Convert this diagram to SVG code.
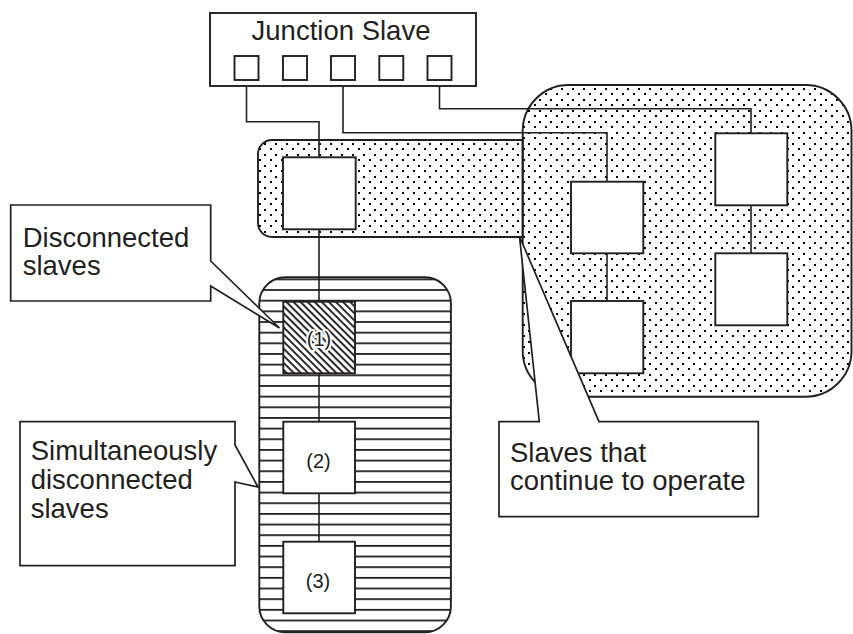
<svg xmlns="http://www.w3.org/2000/svg" width="853" height="634" viewBox="0 0 853 634">
<defs>
<pattern id="dots" patternUnits="userSpaceOnUse" x="0" y="0" width="11" height="11">
<rect x="0" y="0" width="2" height="2" fill="#000"/>
<rect x="6" y="5" width="2" height="2" fill="#000"/>
</pattern>
<pattern id="stripes" patternUnits="userSpaceOnUse" x="0" y="289.1" width="20" height="10.66">
<rect x="0" y="0" width="20" height="1.8" fill="#231f20"/>
</pattern>
<pattern id="hatch" patternUnits="userSpaceOnUse" width="10" height="5" patternTransform="rotate(45)">
<rect x="0" y="0" width="10" height="1.9" fill="#231f20"/>
</pattern>
<style>
.outline{stroke:#231f20;stroke-width:1.9;stroke-linejoin:round}
.node{fill:#fff;stroke:#231f20;stroke-width:1.9}
.wire{fill:none;stroke:#231f20;stroke-width:1.6}
.label{font-family:"Liberation Sans",Arial,Helvetica,sans-serif;font-size:27.5px;fill:#231f20}
.num{font-family:"Liberation Sans",Arial,Helvetica,sans-serif;font-size:20px;fill:#231f20;text-anchor:middle}
.callout{fill:#fff;stroke:#231f20;stroke-width:1.7;stroke-linejoin:miter}
</style>
</defs>
<rect width="853" height="634" fill="#fff"/>

<g id="region-operating">
<rect class="outline" x="522.7" y="85" width="328.8" height="311.7" rx="46" ry="46" fill="url(#dots)"/>
<path class="outline" d="M522.7,140 H272 A14,14 0 0 0 258,154 V223 A14,14 0 0 0 272,237 H522.7 Z" fill="url(#dots)"/>
</g>

<g id="region-disconnected">
<rect class="outline" x="259.3" y="277.3" width="191.6" height="355" rx="26" ry="26" fill="url(#stripes)"/>
</g>

<g id="connectors">
<polyline class="wire" points="246.5,80 246.5,121.7 319,121.7 319,157.3"/>
<polyline class="wire" points="343,80 343,132.7 607,132.7 607,181.7"/>
<polyline class="wire" points="439.5,80 439.5,108.7 751,108.7 751,133.3"/>
<line class="wire" x1="319" y1="229.3" x2="319" y2="301.7"/>
<line class="wire" x1="319" y1="373.3" x2="319" y2="421.7"/>
<line class="wire" x1="319" y1="493.3" x2="319" y2="541.7"/>
<line class="wire" x1="607" y1="253.3" x2="607" y2="301"/>
<line class="wire" x1="751" y1="205.3" x2="751" y2="253.3"/>
</g>

<g id="junction-slave">
<rect class="node" x="210" y="13" width="266" height="73"/>
<text class="label" x="341" y="40" text-anchor="middle">Junction Slave</text>
<rect class="node" x="234.5" y="56" width="24" height="24"/>
<rect class="node" x="283" y="56" width="24" height="24"/>
<rect class="node" x="331" y="56" width="24" height="24"/>
<rect class="node" x="379.3" y="56" width="24" height="24"/>
<rect class="node" x="427.5" y="56" width="24" height="24"/>
</g>

<g id="slave-band">
<rect class="node" x="283" y="157.3" width="72.7" height="72"/>
</g>
<g id="slave-a">
<rect class="node" x="571" y="181.7" width="72.3" height="71.6"/>
</g>
<g id="slave-b">
<rect class="node" x="571" y="301" width="72.3" height="72.3"/>
</g>
<g id="slave-c">
<rect class="node" x="715.3" y="133.3" width="72" height="72"/>
</g>
<g id="slave-d">
<rect class="node" x="715.3" y="253.3" width="72" height="72"/>
</g>

<g id="slave-1">
<rect x="283.3" y="301.7" width="71.7" height="71.6" fill="#fff"/>
<rect x="283.3" y="301.7" width="71.7" height="71.6" fill="url(#hatch)" stroke="#231f20" stroke-width="1.9"/>
<text class="num" x="319" y="346" stroke="#fff" stroke-width="4" paint-order="stroke" stroke-linejoin="round" fill="#444">(1)</text>
</g>
<g id="slave-2">
<rect class="node" x="283.3" y="421.7" width="71.7" height="71.6"/>
<text class="num" x="318.5" y="468">(2)</text>
</g>
<g id="slave-3">
<rect class="node" x="283.3" y="541.7" width="71.7" height="71.6"/>
<text class="num" x="318" y="588">(3)</text>
</g>

<g id="callout-disconnected">
<path class="callout" d="M10.7,205 H210.7 V261 L279.5,328 L210.7,286 V301 H10.7 Z"/>
<text class="label" x="22.7" y="246.7">Disconnected</text>
<text class="label" x="22.7" y="275">slaves</text>
</g>

<g id="callout-simultaneous">
<path class="callout" d="M20,421.7 H235 V445 L258,487 L235,482 V565.7 H20 Z"/>
<text class="label" x="30.7" y="460">Simultaneously</text>
<text class="label" x="30.7" y="489">disconnected</text>
<text class="label" x="30.7" y="517.5">slaves</text>
</g>

<g id="callout-operating">
<path class="callout" d="M499,421.7 H539.3 L519.5,236.5 L599,421.7 H758.3 V516.7 H499 Z"/>
<text class="label" x="510" y="461.7">Slaves that</text>
<text class="label" x="510" y="490">continue to operate</text>
</g>
</svg>
